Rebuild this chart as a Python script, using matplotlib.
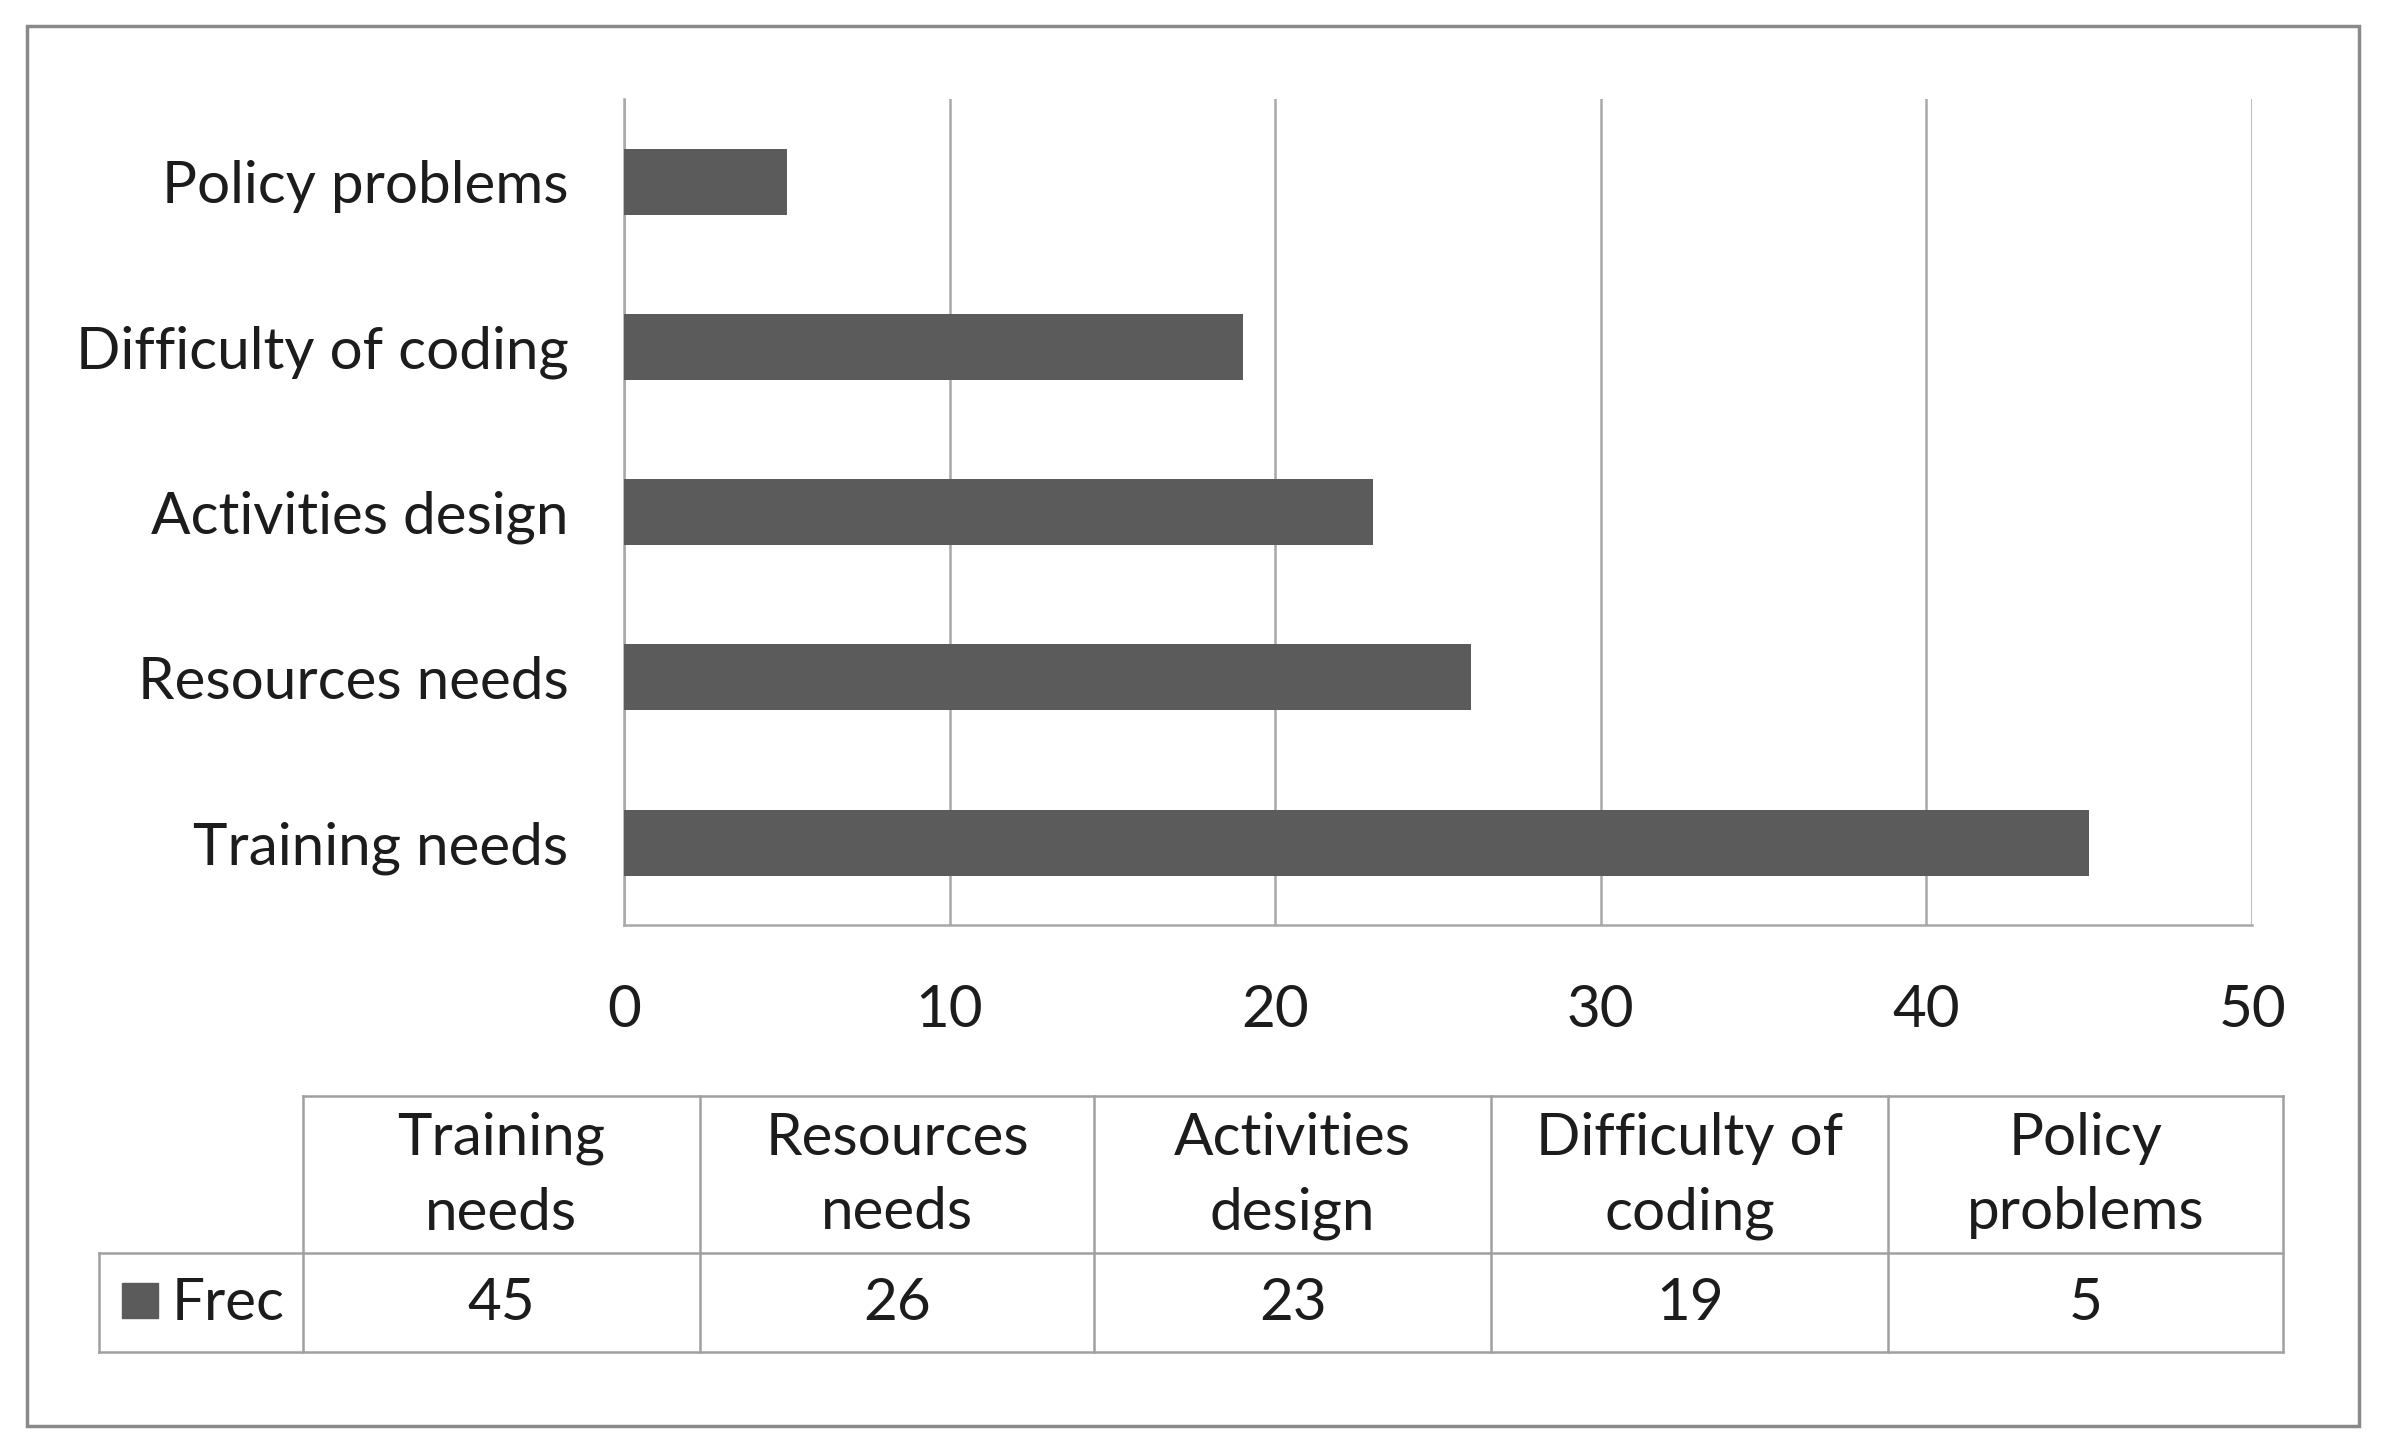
import matplotlib
matplotlib.use("Agg")
import matplotlib.pyplot as plt
from matplotlib.patches import Rectangle

plt.rcParams['font.family'] = ['Lato', 'DejaVu Sans']

categories = ["Training needs", "Resources needs", "Activities design",
              "Difficulty of coding", "Policy problems"]
table_headers = ["Training\nneeds", "Resources\nneeds", "Activities\ndesign",
                 "Difficulty of\ncoding", "Policy\nproblems"]
values = [45, 26, 23, 19, 5]
series_name = "Frec"
xticks = [0, 10, 20, 30, 40, 50]

BAR = "#5b5b5b"
GRID = "#a8a8a8"
TXT = "#1c1c1c"
FS = 42

W, H = 1568, 956  # layout reference grid
fig = plt.figure(figsize=(23.86, 14.55), dpi=100)

def fx(x):
    return x / W

def fy(y):
    return 1 - y / H

ax = fig.add_axes([fx(410), fy(608), fx(1480) - fx(410), fy(65) - fy(608)])
ypos = list(range(len(categories)))
ax.barh(ypos, values, height=0.4, color=BAR, zorder=3)
ax.set_xlim(0, 50)
ax.set_ylim(-0.5, len(categories) - 0.5)
ax.set_xticks(xticks)
ax.set_xticklabels([str(t) for t in xticks], fontsize=FS, color=TXT)
ax.set_yticks(ypos)
ax.set_yticklabels(categories, fontsize=FS, color=TXT)
ax.tick_params(axis='x', length=0, pad=42)
ax.tick_params(axis='y', length=0, pad=40)
ax.grid(axis='x', color=GRID, linewidth=1.8, zorder=0)
for s in ['top', 'right']:
    ax.spines[s].set_visible(False)
for s in ['left', 'bottom']:
    ax.spines[s].set_color(GRID)
    ax.spines[s].set_linewidth(1.8)

# overlay for table and outer border
ov = fig.add_axes([0, 0, 1, 1], zorder=-1)
ov.set_xlim(0, W)
ov.set_ylim(H, 0)
ov.axis('off')
ov.add_patch(Rectangle((18, 17), 1532, 920, fill=False, edgecolor="#8a8a8a", linewidth=2.5))

col_edges = [199, 460, 719, 980, 1241, 1500]
lab_left = 65
top, mid, bot = 720, 823, 888
lc = "#a0a0a0"
lw = 1.8
ov.plot([col_edges[0], col_edges[-1]], [top, top], color=lc, lw=lw)
ov.plot([lab_left, col_edges[-1]], [mid, mid], color=lc, lw=lw)
ov.plot([lab_left, col_edges[-1]], [bot, bot], color=lc, lw=lw)
for x in col_edges:
    ov.plot([x, x], [top, bot], color=lc, lw=lw)
ov.plot([lab_left, lab_left], [mid, bot], color=lc, lw=lw)

for i, (hdr, v) in enumerate(zip(table_headers, values)):
    cx = (col_edges[i] + col_edges[i + 1]) / 2
    ov.text(cx, (top + mid) / 2 + 1, hdr, ha='center', va='center', fontsize=FS,
            color=TXT, linespacing=1.5)
    ov.text(cx, (mid + bot) / 2 + 1, str(v), ha='center', va='center', fontsize=FS, color=TXT)

ov.add_patch(Rectangle((80, 843), 24, 23, color=BAR))
ov.text(113, (mid + bot) / 2 + 1, series_name, ha='left', va='center', fontsize=FS, color=TXT)

fig.savefig("out.png", dpi=100, facecolor="white")
